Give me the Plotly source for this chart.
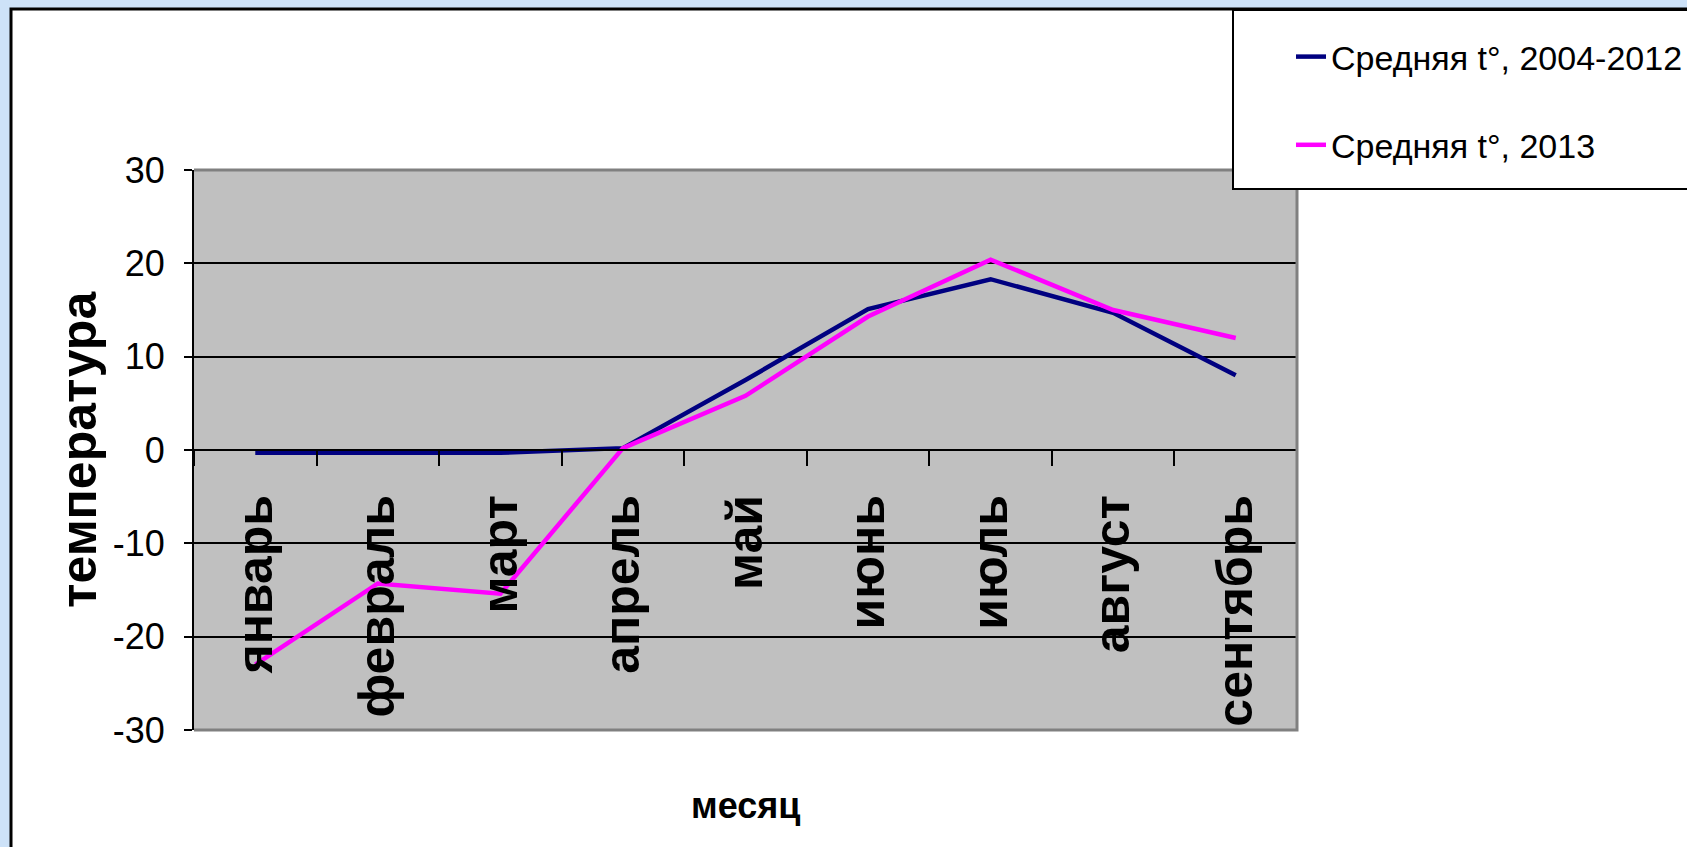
import plotly.graph_objects as go

months = ["январь", "февраль", "март", "апрель", "май", "июнь", "июль", "август", "сентябрь"]
avg_2004_2012 = [-0.3, -0.3, -0.3, 0.2, 7.5, 15.1, 18.3, 14.7, 8.0]
avg_2013 = [-23.0, -14.3, -15.4, 0.2, 5.8, 14.3, 20.4, 15.0, 12.0]
series_names = ["Средняя t°, 2004-2012", "Средняя t°, 2013"]
y_tick_vals = [-30, -20, -10, 0, 10, 20, 30]
y_tick_text = ["-30", "-20", "-10", "0", "10", "20", "30"]
y_title = "температура"
x_title = "месяц"

W, H = 1687, 847
L, R, T, B = 194, 1297, 170, 730
pw, ph = R - L, B - T

def px(x):
    return (x - L) / pw

def py(y):
    return (B - y) / ph

ARIAL = "Liberation Sans, Arial"

fig = go.Figure()
fig.add_trace(go.Scatter(x=months, y=avg_2004_2012, mode="lines", name=series_names[0],
                         line=dict(color="#000080", width=4.5), legendgroup="a"))
fig.add_trace(go.Scatter(x=months, y=avg_2013, mode="lines", name=series_names[1],
                         line=dict(color="#ff00ff", width=4.5), legendgroup="b"))

shapes = [
    # white panel with black border
    dict(type="rect", xref="paper", yref="paper", x0=px(11), x1=px(1720), y0=py(880), y1=py(9),
         fillcolor="white", line=dict(color="black", width=3), layer="below"),
    # gray plot area
    dict(type="rect", xref="paper", yref="paper", x0=0, x1=1, y0=0, y1=1,
         fillcolor="#c0c0c0", line=dict(width=0), layer="below"),
    # gray plot border
    dict(type="path", xref="paper", yref="paper", path="M0,1 L1,1 L1,0 L0,0",
         line=dict(color="#808080", width=3), layer="above"),
    # legend box (covers the plot corner)
    dict(type="rect", xref="paper", yref="paper", x0=px(1233), x1=px(1720), y0=py(189), y1=py(10),
         fillcolor="white", line=dict(color="black", width=2), layer="above"),
]

annotations = [
    dict(text=y_title, xref="paper", yref="paper", x=px(79), y=0.5, showarrow=False,
         textangle=-90, font=dict(family=ARIAL, size=50, color="black", weight="bold"),
         xanchor="center", yanchor="middle"),
    dict(text=x_title, xref="paper", yref="paper", x=px(745), y=py(805), showarrow=False,
         font=dict(family=ARIAL, size=36, color="black", weight="bold"),
         xanchor="center", yanchor="middle"),
]

fig.update_layout(
    width=W, height=H,
    margin=dict(l=L, r=W - R, t=T, b=H - B, autoexpand=False),
    paper_bgcolor="#cde2f8",
    plot_bgcolor="rgba(0,0,0,0)",
    showlegend=True,
    legend=dict(x=px(1233), y=py(28), xanchor="left", yanchor="top",
                bgcolor="rgba(0,0,0,0)", borderwidth=0,
                font=dict(family=ARIAL, size=34, color="black"),
                traceorder="grouped", tracegroupgap=41, indentation=58),
    shapes=shapes,
    annotations=annotations,
    xaxis=dict(type="category", anchor="free", position=0.5,
               showline=True, linecolor="black", linewidth=2,
               ticks="outside", tickson="boundaries", ticklen=15, tickcolor="black", tickwidth=2,
               tickangle=-90, ticklabelstandoff=24,
               tickfont=dict(family=ARIAL, size=50, color="black", weight="bold"),
               showgrid=False, range=[-0.5, 8.5]),
    yaxis=dict(range=[-30, 30], domain=[0, 1],
               tickvals=y_tick_vals, ticktext=y_tick_text,
               showline=True, linecolor="black", linewidth=2,
               ticks="outside", ticklen=8, tickcolor="black", tickwidth=2,
               showgrid=True, gridcolor="black", gridwidth=2,
               zeroline=True, zerolinecolor="black", zerolinewidth=2,
               tickfont=dict(family=ARIAL, size=36, color="black"),
               ticklabelstandoff=12),
)

fig.write_html("out.html", config={"displayModeBar": False},
               post_script="document.body.style.margin='0';")
